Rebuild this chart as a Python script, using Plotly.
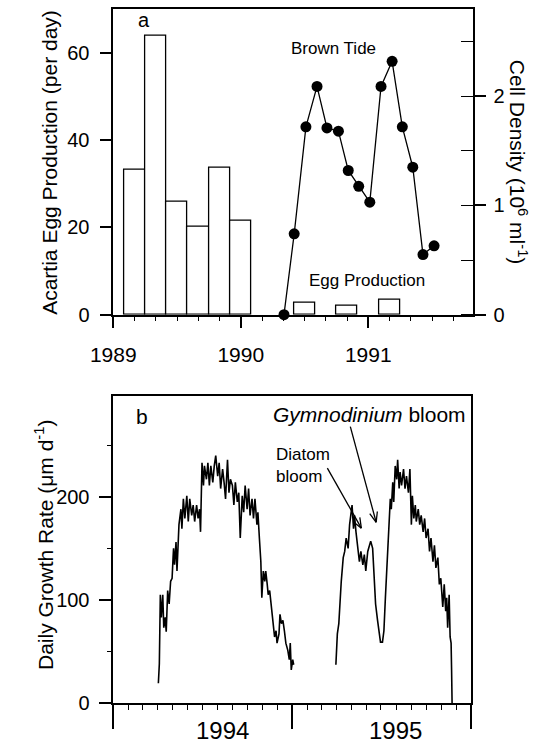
import math
import pandas as pd
import plotly.graph_objects as go

W, H = 536, 754

# ---------------- Panel a data ----------------
egg_year = [1989.1667, 1989.3333, 1989.5, 1989.6667, 1989.8333, 1990.0, 1990.5, 1990.8333, 1991.1667]
egg_prod = [33.1, 63.8, 25.8, 20.0, 33.5, 21.5, 2.7, 2.1, 3.4]

cell_year = [1990.339, 1990.419, 1990.511, 1990.598, 1990.676, 1990.766, 1990.843, 1990.925,
             1991.012, 1991.100, 1991.187, 1991.267, 1991.349, 1991.429, 1991.516]
cell_density = [0.0, 0.74, 1.72, 2.09, 1.71, 1.68, 1.32, 1.175, 1.03, 2.09, 2.32, 1.72, 1.35, 0.55, 0.63]

# ---------------- Panel b data (days since 1994-01-01) ----------------
gr_day_1 = [92, 94, 96, 98, 101, 103, 106, 108, 111, 114, 117, 120, 122, 123, 125, 128, 130, 132, 134, 138,
            140, 143, 146, 150, 153, 156, 160, 163, 166, 170, 173, 176, 178, 181, 184, 186, 190, 193, 196, 199,
            203, 206, 209, 213, 216, 219, 223, 226, 229, 233, 236, 239, 243, 246, 249, 253, 256, 259, 263, 266,
            269, 273, 276, 279, 283, 286, 289, 293, 295, 298, 301, 303, 306, 309, 311, 314, 316, 319, 322, 326,
            329, 332, 334, 338, 340, 343, 346, 349, 352, 356, 359, 361, 363, 366, 368]
gr_val_1 = [19, 38, 105, 83, 105, 73, 83, 69, 109, 96, 118, 121, 141, 150, 134, 156, 128, 160, 173, 188,
            169, 198, 179, 201, 176, 198, 182, 192, 176, 192, 179, 188, 166, 233, 211, 230, 217, 233, 211, 230,
            214, 230, 240, 220, 233, 208, 227, 214, 198, 236, 204, 217, 211, 192, 214, 195, 204, 160, 201, 185,
            211, 188, 208, 182, 198, 179, 198, 173, 185, 160, 137, 102, 128, 118, 128, 115, 105, 109, 96, 80,
            64, 70, 58, 67, 86, 77, 80, 70, 58, 51, 42, 58, 32, 42, 37]

gr_day_2 = [454, 457, 460, 463, 465, 469, 472, 475, 479, 482, 485, 487, 490, 492, 495, 499, 502, 505, 509, 512,
            515, 519, 522, 525, 529, 532, 535, 539, 542, 545, 549, 552, 555, 558, 562, 565, 567, 570, 572, 575,
            578, 580, 583, 585, 588, 592, 595, 598, 602, 605, 608, 610, 613, 616, 618, 622, 625, 628, 632, 635,
            638, 642, 645, 648, 652, 655, 658, 662, 665, 668, 672, 675, 678, 680, 682, 685, 687, 689, 690, 691]
gr_val_2 = [37, 67, 77, 105, 118, 141, 147, 160, 150, 173, 185, 192, 169, 182, 166, 147, 137, 147, 134, 144,
            128, 147, 153, 157, 150, 121, 96, 80, 67, 59, 59, 70, 102, 134, 169, 198, 188, 214, 195, 230,
            217, 236, 208, 224, 211, 227, 208, 220, 204, 227, 173, 201, 179, 192, 176, 188, 173, 182, 166, 179,
            160, 169, 147, 160, 137, 153, 131, 141, 115, 121, 93, 115, 89, 102, 73, 105, 64, 58, 32, 0]

base = pd.Timestamp("1994-01-01")
dates_1 = [base + pd.Timedelta(days=d) for d in gr_day_1]
dates_2 = [base + pd.Timedelta(days=d) for d in gr_day_2]

FONT = "Liberation Sans, Arial, sans-serif"


def px(x):
    return x / W


def py(y):
    return 1 - y / H


fig = go.Figure()
fig.add_trace(go.Bar(x=egg_year, y=egg_prod, width=1 / 6,
                     marker=dict(color="white", line=dict(color="black", width=1.3)),
                     xaxis="x", yaxis="y", showlegend=False))
fig.add_trace(go.Scatter(x=cell_year, y=cell_density, mode="lines+markers",
                         line=dict(color="black", width=1.3),
                         marker=dict(size=11, color="black"),
                         xaxis="x", yaxis="y2", showlegend=False, cliponaxis=False))
for d, v in [(dates_1, gr_val_1), (dates_2, gr_val_2)]:
    fig.add_trace(go.Scatter(x=d, y=v, mode="lines", line=dict(color="black", width=1.6),
                             xaxis="x2", yaxis="y3", showlegend=False))

axcommon = dict(showline=True, linecolor="black", linewidth=1.5, showgrid=False, zeroline=False,
                ticks="outside", tickcolor="black", tickwidth=1.5)

fig.update_layout(
    width=W, height=H, margin=dict(l=0, r=0, t=0, b=0),
    paper_bgcolor="white", plot_bgcolor="white",
    font=dict(family=FONT, color="black"),
    bargap=0,
    xaxis=dict(**axcommon, domain=[px(94.3), px(470)], anchor="y", range=[1989, 1991.82],
               tick0=1989, dtick=1, ticklen=12, mirror=True, tickfont=dict(size=21),
               ticklabelstandoff=8,
               minor=dict(dtick=1 / 6, tick0=1989, ticks="outside", ticklen=5, tickwidth=1.3,
                          tickcolor="black", showgrid=False)),
    yaxis=dict(**axcommon, domain=[py(319.3), py(9)], anchor="x", range=[0, 70], dtick=20,
               ticklen=12, tickfont=dict(size=20), ticklabelstandoff=6),
    yaxis2=dict(**axcommon, overlaying="y", side="right", anchor="x", range=[0, 2.8], dtick=1,
                ticklen=11, tickfont=dict(size=20), ticklabelstandoff=4,
                minor=dict(dtick=0.5, ticks="inside", ticklen=12, tickwidth=1.3, tickcolor="black",
                           showgrid=False)),
    xaxis2=dict(**axcommon, type="date", domain=[px(94.3), px(468.3)], anchor="y3",
                range=["1994-01-01", "1996-01-01"], tick0="1994-01-01", dtick="M12", ticklen=24,
                mirror=True, showticklabels=False,
                minor=dict(dtick="M1", ticks="outside", ticklen=5, tickwidth=1.3, tickcolor="black",
                           showgrid=False)),
    yaxis3=dict(**axcommon, domain=[py(713.3), py(401.7)], anchor="x2", range=[0, 298], dtick=100,
                ticklen=13, mirror=True, tickfont=dict(size=20), ticklabelstandoff=5,
                minor=dict(dtick=50, ticks="outside", ticklen=5, tickwidth=1.3, tickcolor="black",
                           showgrid=False)),
)

ann = []


def text(x, y, s, size, angle=0, xanchor="center", align="center"):
    ann.append(dict(x=px(x), y=py(y), xref="paper", yref="paper", text=s, showarrow=False,
                    font=dict(size=size, family=FONT, color="black"), textangle=angle,
                    xanchor=xanchor, yanchor="middle", align=align))


text(27.4, 165, "Acartia Egg Production (per day)", 21, -90)
text(518, 164, "Cell Density (10<sup>6</sup> ml<sup>-1</sup>)", 21, 90)
text(22, 553, "Daily Growth Rate (\u03bcm d<sup>-1</sup>)", 21, -90)
text(126.5, 20, "a", 20)
text(324, 49, "Brown Tide", 17)
text(359.5, 285, "Egg Production", 17)
text(124.7, 423, "b", 21)
text(362, 421, "<i>Gymnodinium</i> bloom", 21)
text(262, 472, "Diatom<br>bloom", 17, xanchor="left", align="left")
text(208.4, 741, "1994", 24)
text(389, 741, "1995", 24)

shapes = []


def arrow(x0, y0, x1, y1, head=11, spread=22):
    shapes.append(dict(type="line", xref="paper", yref="paper", x0=px(x0), y0=py(y0), x1=px(x1), y1=py(y1),
                       line=dict(color="black", width=1.3)))
    ang = math.atan2(y1 - y0, x1 - x0)
    for s in (-1, 1):
        a = ang + math.pi + s * math.radians(spread)
        hx, hy = x1 + head * math.cos(a), y1 + head * math.sin(a)
        shapes.append(dict(type="line", xref="paper", yref="paper", x0=px(x1), y0=py(y1), x1=px(hx),
                           y1=py(hy), line=dict(color="black", width=1.3)))


arrow(318, 475, 353.5, 536)
arrow(342, 433, 369, 530)

fig.update_layout(annotations=ann, shapes=shapes)
fig.write_html("out.html")
